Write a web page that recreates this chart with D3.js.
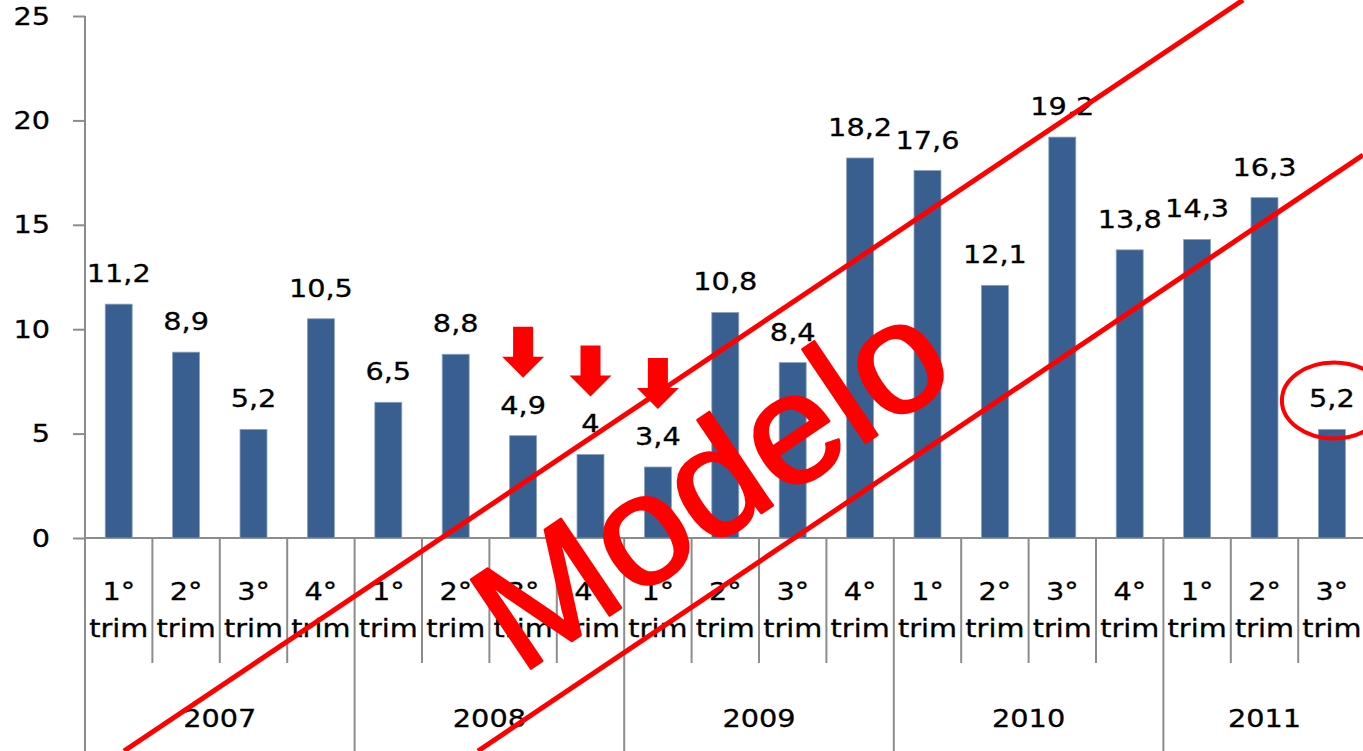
<!DOCTYPE html>
<html>
<head>
<meta charset="utf-8">
<script src="https://cdnjs.cloudflare.com/ajax/libs/d3/7.8.5/d3.min.js"></script>
<style>
  body { margin: 0; background: #fff; }
  svg { display: block; }
  text { font-family: "DejaVu Sans", Verdana, sans-serif; fill: #000; }
</style>
</head>
<body>
<div id="chart"></div>
<script>
// data
var years = ['2007', '2007', '2007', '2007', '2008', '2008', '2008', '2008', '2009', '2009', '2009', '2009',
    '2010', '2010', '2010', '2010', '2011', '2011', '2011'];
var quarters = ['1°', '2°', '3°', '4°', '1°', '2°', '3°', '4°', '1°', '2°', '3°', '4°',
    '1°', '2°', '3°', '4°', '1°', '2°', '3°'];
var values = [11.2, 8.9, 5.2, 10.5, 6.5, 8.8, 4.9, 4, 3.4, 10.8, 8.4, 18.2, 17.6, 12.1, 19.2, 13.8, 14.3, 16.3, 5.2];
var yTicks = [0, 5, 10, 15, 20, 25];
var arrowAt = [6, 7, 8];   // bars marked with arrows
var circleAt = 18;         // bar with circled label

var width = 1363, height = 751;
var svg = d3.select('#chart').append('svg').attr('width', width).attr('height', height);

var x0 = 85, x1 = 85 + 19 * 67.4, yTop = 16, yBase = 538;
var idx = values.map((d, i) => i);

var xScale = d3.scaleBand().domain(idx).range([x0, x1]).paddingInner(0.6).paddingOuter(0.3);
var yScale = d3.scaleLinear().domain([0, 25]).range([yBase, yTop]);
var step = xScale.step();
var cx = i => xScale(i) + xScale.bandwidth() / 2;
var fmt = v => String(v).replace('.', ',');
var stretch = 1.15;

// y axis
var yAxis = svg.append('g').attr('transform', `translate(${x0},0)`)
    .call(d3.axisLeft(yScale).tickValues(yTicks).tickSize(12).tickPadding(23).tickFormat(d3.format('d')));
yAxis.select('.domain').remove();
yAxis.selectAll('line').attr('stroke', '#8c8c8c').attr('stroke-width', 2);
yAxis.selectAll('text').attr('font-size', 25).style('font-family', '"DejaVu Sans", Verdana, sans-serif')
    .attr('fill', '#000').attr('stroke', '#000').attr('stroke-width', 0.3)
    .attr('transform', function () {
        var xx = +d3.select(this).attr('x');
        return `translate(${xx * (1 - stretch)},0) scale(${stretch},1)`;
    });

// axis lines
var axisColor = '#8c8c8c';
svg.append('line').attr('x1', x0).attr('x2', x0).attr('y1', yTop).attr('y2', height)
    .attr('stroke', axisColor).attr('stroke-width', 2);
svg.append('line').attr('x1', x0).attr('x2', width).attr('y1', yBase).attr('y2', yBase)
    .attr('stroke', axisColor).attr('stroke-width', 2);

// category separators
d3.range(1, values.length + 1).forEach(k => {
    var xx = x0 + k * step;
    var groupEdge = k === values.length || years[k] !== years[k - 1];
    svg.append('line').attr('x1', xx).attr('x2', xx).attr('y1', yBase)
        .attr('y2', groupEdge ? height : 663)
        .attr('stroke', axisColor).attr('stroke-width', 2);
});

// bars
svg.append('g').selectAll('rect').data(values).join('rect')
    .attr('x', (d, i) => xScale(i))
    .attr('y', d => yScale(d))
    .attr('width', xScale.bandwidth())
    .attr('height', d => yBase - yScale(d))
    .attr('fill', '#385f8f')
    .attr('stroke', '#8aa3c2').attr('stroke-width', 0.8);

function stretchedText(g, xx, yy, txt, size) {
    return g.append('text').text(txt)
        .attr('text-anchor', 'middle')
        .attr('font-size', size)
        .attr('stroke', '#000').attr('stroke-width', 0.3)
        .attr('transform', `translate(${xx},${yy}) scale(${stretch},1)`);
}

// value labels
var labels = svg.append('g');
values.forEach((v, i) => stretchedText(labels, cx(i), yScale(v) - 22, fmt(v), 25));

// category labels
var cats = svg.append('g');
quarters.forEach((q, i) => {
    stretchedText(cats, cx(i), 600, q, 25);
    stretchedText(cats, cx(i), 637, 'trim', 25);
});
var uniqYears = Array.from(new Set(years));
uniqYears.forEach(yr => {
    var first = years.indexOf(yr), last = years.lastIndexOf(yr);
    var mid = x0 + (first + last + 1) / 2 * step;
    stretchedText(cats, mid, 727, yr, 25);
});

// red annotations
var red = '#ff0000';
var ann = svg.append('g');
arrowAt.forEach(i => {
    var tx = cx(i), ty = yScale(values[i]) - 22 - 36;
    var p = d3.path();
    p.moveTo(tx - 10, ty - 51); p.lineTo(tx + 10, ty - 51); p.lineTo(tx + 10, ty - 21);
    p.lineTo(tx + 21, ty - 21); p.lineTo(tx, ty); p.lineTo(tx - 21, ty - 21);
    p.lineTo(tx - 10, ty - 21); p.closePath();
    ann.append('path').attr('d', p.toString()).attr('fill', red);
});
ann.append('ellipse')
    .attr('cx', cx(circleAt) + 2).attr('cy', yScale(values[circleAt]) - 22 - 7)
    .attr('rx', 52).attr('ry', 38)
    .attr('fill', 'none').attr('stroke', red).attr('stroke-width', 4);

// watermark
ann.append('line').attr('x1', 124).attr('y1', 751).attr('x2', 1243).attr('y2', 0)
    .attr('stroke', red).attr('stroke-width', 5);
ann.append('line').attr('x1', 478).attr('y1', 751).attr('x2', 1363).attr('y2', 155)
    .attr('stroke', red).attr('stroke-width', 5);
ann.append('text').text('Modelo')
    .attr('transform', 'translate(520,676) rotate(-34) scale(1.04,1)')
    .attr('font-size', 156)
    .style('font-family', '"Liberation Sans", Arial, sans-serif')
    .style('fill', red).style('stroke', red).style('stroke-width', 2.5)
    .style('stroke-linejoin', 'round');
</script>
</body>
</html>
